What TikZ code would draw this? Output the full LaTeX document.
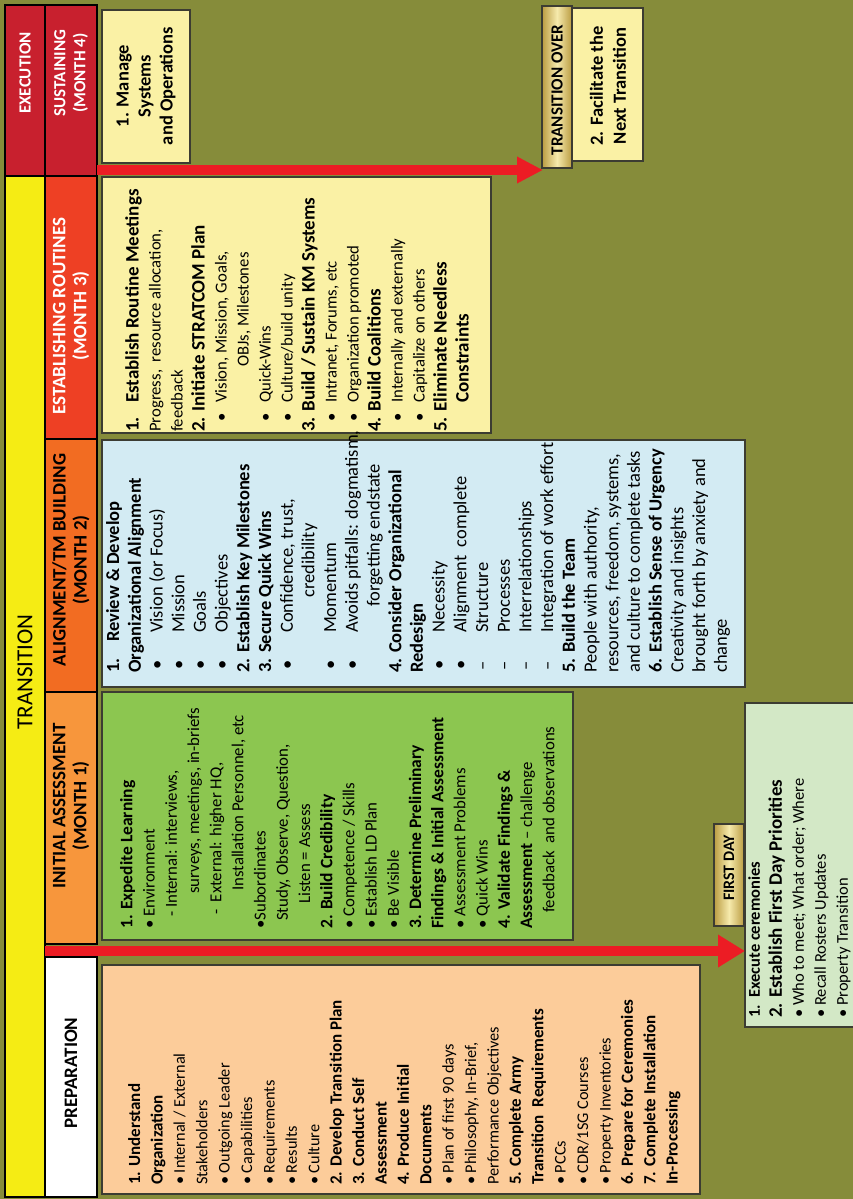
\documentclass[tikz,border=0pt]{standalone}
\usepackage{fontspec}
\setmainfont{Carlito}
\usetikzlibrary{arrows.meta}
\definecolor{bgolive}{RGB}{134,140,58}
\definecolor{exred}{RGB}{200,32,46}
\definecolor{tryellow}{RGB}{245,236,20}
\definecolor{estred}{RGB}{238,64,36}
\definecolor{aliorange}{RGB}{242,108,34}
\definecolor{iniorange}{RGB}{247,150,60}
\definecolor{paleyellow}{RGB}{250,241,165}
\definecolor{paleblue}{RGB}{211,235,243}
\definecolor{leafgreen}{RGB}{140,198,80}
\definecolor{peach}{RGB}{252,204,154}
\definecolor{palegreen}{RGB}{211,232,198}
\definecolor{arrowred}{RGB}{236,28,36}
\definecolor{golddark}{RGB}{186,156,66}
\definecolor{goldlight}{RGB}{246,234,172}
\definecolor{framegray}{RGB}{60,60,50}
\newcommand{\bl}[2][4pt]{\makebox[#2][l]{\hspace*{#1}\textbullet}}
\newcommand{\dl}[2][4pt]{\makebox[#2][l]{\hspace*{#1}--}}
\newcommand{\hb}[1]{{\bfseries\fontsize{\bsz}{\lsk}\selectfont #1}}
\begin{document}
\begin{tikzpicture}[x=1pt,y=-1pt,
  hdr/.style={draw=black, line width=1.4pt},
  bx/.style={draw=framegray, line width=1.4pt},
  hd/.style={rotate=90, inner sep=0pt, align=center, font=\bfseries\fontsize{19}{21}\selectfont},
  vt/.style={rotate=90, inner sep=0pt, align=left, anchor=north west},
  lab/.style={draw=framegray, line width=1.2pt, left color=golddark, right color=golddark, middle color=goldlight},
  redarrow/.style={draw=arrowred, line width=10pt}
]
\useasboundingbox (0,0) rectangle (853,1199);
\clip (0,0) rectangle (853,1199);
\fill[bgolive] (0,0) rectangle (853,1199);

% header columns
\filldraw[hdr, fill=exred] (5,5) rectangle (45,176);
\filldraw[hdr, fill=exred] (45,5) rectangle (97,176);
\filldraw[hdr, fill=tryellow] (5,176) rectangle (45,1197);
\filldraw[hdr, fill=estred] (45,176) rectangle (97,439);
\filldraw[hdr, fill=aliorange] (45,439) rectangle (97,692);
\filldraw[hdr, fill=iniorange] (45,692) rectangle (97,944);
\filldraw[hdr, fill=white] (45,957) rectangle (97,1197);

\node[hd, text=white, font=\bfseries\fontsize{17}{19}\selectfont] (hexe) at (25,73) {EXECUTION};
\node[hd, text=white, font=\bfseries\fontsize{17}{20}\selectfont] (hsus) at (71,73) {SUSTAINING\\(MONTH 4)};
\node[hd, font=\fontsize{23}{26}\selectfont] (htr) at (25,672) {TRANSITION};
\node[hd, text=white] (hest) at (71,316) {ESTABLISHING ROUTINES\\(MONTH 3)};
\node[hd] (hali) at (71,560) {ALIGNMENT/TM BUILDING\\(MONTH 2)};
\node[hd] (hini) at (71,806) {INITIAL ASSESSMENT\\(MONTH 1)};
\node[hd] (hpre) at (71,1073) {PREPARATION};

% content boxes
\filldraw[bx, fill=paleyellow] (102,10) rectangle (190,163);
\filldraw[bx, fill=paleyellow] (102,177) rectangle (491,433);
\filldraw[bx, fill=paleblue] (102,440) rectangle (745,687);
\filldraw[bx, fill=leafgreen] (102,692) rectangle (573,940);
\filldraw[bx, fill=peach] (102,965) rectangle (700,1194);
\filldraw[bx, fill=paleyellow] (572,8) rectangle (643,161);
\filldraw[bx, fill=palegreen] (745,703) rectangle (860,1027);
\filldraw[lab] (542,6) rectangle (572,168);
\filldraw[lab] (714,824) rectangle (744,926);

% month 4 / labels
\node[rotate=90, inner sep=0pt, align=center, font=\bfseries\fontsize{18.5}{22}\selectfont] (tman) at (146,86) {1. Manage\\Systems\\and Operations};
\node[rotate=90, inner sep=0pt, align=center, font=\bfseries\fontsize{18.5}{23}\selectfont] (tfac) at (608,86) {2. Facilitate the\\Next Transition};
\node[rotate=90, inner sep=0pt, font=\bfseries\fontsize{17}{19}\selectfont] (tover) at (557,90) {TRANSITION OVER};
\node[rotate=90, inner sep=0pt, font=\bfseries\fontsize{16}{18}\selectfont] (tfirst) at (729,868) {FIRST DAY};

% month 3
\node[vt, font={\def\bsz{19}\def\lsk{22}\fontsize{16.7}{22}\selectfont}] (tm3) at (125,432) {%
\hb{\makebox[29pt][l]{1.}Establish Routine Meetings}\\
Progress,\ \ resource allocation,\\
feedback\\
\hb{2. Initiate STRATCOM Plan}\\
\bl[10pt]{29pt}Vision, Mission, Goals,\\
\hspace*{65pt}OBJs, Milestones\\
\bl[10pt]{29pt}Quick-Wins\\
\bl[10pt]{29pt}Culture/build unity\\
\hb{3. Build / Sustain KM Systems}\\
\bl[10pt]{29pt}Intranet, Forums, etc\\
\bl[10pt]{29pt}Organization promoted\\
\hb{4. Build Coalitions}\\
\bl[10pt]{29pt}Internally and externally\\
\bl[10pt]{29pt}Capitalize on others\\
\hb{5. Eliminate Needless}\\
\hspace*{29pt}\hb{Constraints}};

% month 2
\node[vt, font={\def\bsz{18.5}\def\lsk{21.7}\fontsize{18.5}{21.7}\selectfont}] (tm2) at (106,673) {%
\hb{\makebox[31pt][l]{1.}Review \& Develop}\\
\hb{Organizational Alignment}\\
\bl[3pt]{40pt}Vision (or Focus)\\
\bl[3pt]{40pt}Mission\\
\bl[3pt]{40pt}Goals\\
\bl[3pt]{40pt}Objectives\\
\hb{2. Establish Key Milestones}\\
\hb{3. Secure Quick Wins}\\
\bl[3pt]{40pt}Confidence, trust,\\
\hspace*{75pt}credibility\\
\bl[3pt]{40pt}Momentum\\
\bl[3pt]{40pt}Avoids pitfalls: dogmatism,\\
\hspace*{66pt}forgetting endstate\\
\hb{4. Consider Organizational}\\
\hb{Redesign}\\
\bl[3pt]{40pt}Necessity\\
\bl[3pt]{40pt}Alignment\ \ complete\\
\dl[2pt]{40pt}Structure\\
\dl[2pt]{40pt}Processes\\
\dl[2pt]{40pt}Interrelationships\\
\dl[2pt]{40pt}Integration of work effort\\
\hb{5. Build the Team}\\
People with authority,\\
resources, freedom, systems,\\
and culture to complete tasks\\
\hb{6. Establish Sense of Urgency}\\
Creativity and insights\\
brought forth by anxiety and\\
change};

% month 1
\node[vt, font={\def\bsz{17.5}\def\lsk{22.2}\fontsize{16.8}{22.2}\selectfont}] (tm1) at (120,929) {%
\hb{1. Expedite Learning}\\
\textbullet\ Environment\\
\hspace*{12pt}- Internal: interviews,\\
\hspace*{35pt}surveys, meetings, in-briefs\\
\hspace*{14pt}-\ \ External: higher HQ,\\
\hspace*{38pt}Installation Personnel, etc\\
\textbullet Subordinates\\
\hspace*{8pt}Study, Observe, Question,\\
\hspace*{25pt}Listen = Assess\\
\hb{2. Build Credibility}\\
\textbullet\ Competence / Skills\\
\textbullet\ Establish LD Plan\\
\textbullet\ Be Visible\\
\hb{3. Determine Preliminary}\\
\hb{Findings \& Initial Assessment}\\
\textbullet\ Assessment Problems\\
\textbullet\ Quick Wins\\
\hb{4. Validate Findings \&}\\
\hb{Assessment} -- challenge\\
\hspace*{16pt}feedback\ \ and observations};

% preparation
\node[vt, font={\def\bsz{17}\def\lsk{22.4}\fontsize{16.3}{22.4}\selectfont}] (tprep) at (128,1185) {%
\hb{1. Understand}\\
\hb{Organization}\\
\textbullet\ Internal / External\\
Stakeholders\\
\textbullet\ Outgoing Leader\\
\textbullet\ Capabilities\\
\textbullet\ Requirements\\
\textbullet\ Results\\
\textbullet\ Culture\\
\hb{2. Develop Transition Plan}\\
\hb{3. Conduct Self}\\
\hb{Assessment}\\
\hb{4. Produce Initial}\\
\hb{Documents}\\
\textbullet\ Plan of first 90 days\\
\textbullet\ Philosophy, In-Brief,\\
Performance Objectives\\
\hb{5. Complete Army}\\
\hb{Transition\ \ Requirements}\\
\textbullet\ PCCs\\
\textbullet\ CDR/1SG Courses\\
\textbullet\ Property Inventories\\
\hb{6. Prepare for Ceremonies}\\
\hb{7. Complete Installation}\\
\hb{In-Processing}};

% first day
\node[vt, font={\def\bsz{19}\def\lsk{22}\fontsize{16.5}{22}\selectfont}] (tfd) at (748,1018) {%
{\bfseries\makebox[20pt][l]{1.}Execute ceremonies}\\
\hb{\makebox[20pt][l]{2.}Establish First Day Priorities}\\
\textbullet\ Who to meet; What order; Where\\
\textbullet\ Recall Rosters Updates\\
\textbullet\ Property Transition};

% arrows
\coordinate (a1s) at (97,170);
\coordinate (a1e) at (543,170);
\coordinate (a2s) at (45,951);
\coordinate (a2e) at (745,951);
\draw[redarrow, -{Triangle[length=26pt, width=25pt]}] (a1s) -- (a1e);
\draw[redarrow, -{Triangle[length=27pt, width=31pt]}] (a2s) -- (a2e);
\end{tikzpicture}
\end{document}
